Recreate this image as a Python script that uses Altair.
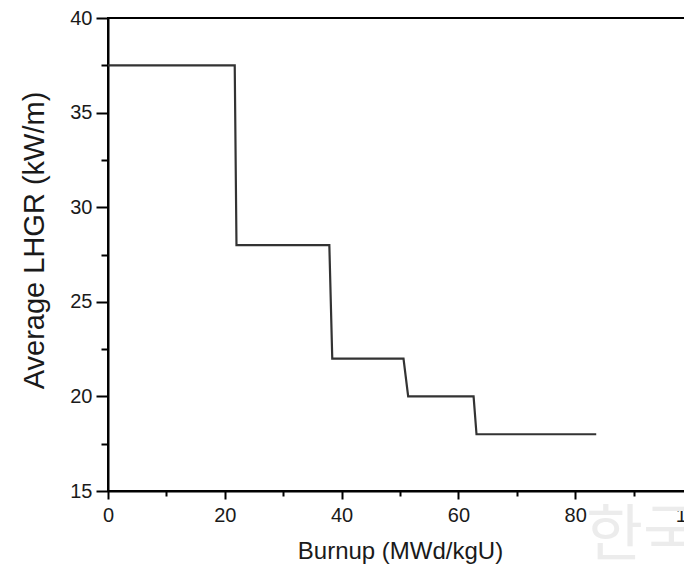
import altair as alt
import pandas as pd

# Step profile: burnup (MWd/kgU) vs average LHGR (kW/m)
burnup = [0, 21.7, 22.0, 37.9, 38.4, 50.6, 51.4, 62.6, 63.1, 83.6]
lhgr = [37.5, 37.5, 28.0, 28.0, 22.0, 22.0, 20.0, 20.0, 18.0, 18.0]

x_ticks = [0, 10, 20, 30, 40, 50, 60, 70, 80, 90, 100]
y_ticks = [15, 17.5, 20, 22.5, 25, 27.5, 30, 32.5, 35, 37.5, 40]

df = pd.DataFrame({"burnup": burnup, "lhgr": lhgr, "order": list(range(len(burnup)))})

FONT = "Liberation Sans"
TXT = "#1a1a1a"

x_axis = alt.Axis(
    title="Burnup (MWd/kgU)",
    values=x_ticks,
    labelExpr="datum.value % 20 === 0 ? datum.label : ''",
    tickSize={"condition": {"test": "datum.value % 20 === 0", "value": 8}, "value": 5},
    labelFlush=False,
    labelOverlap=False,
    grid=False,
    domainColor="black",
    domainWidth=2,
    tickColor="black",
    tickWidth=2,
    labelFont=FONT,
    labelFontSize=20,
    labelColor=TXT,
    labelPadding=6,
    titleFont=FONT,
    titleFontSize=24,
    titleFontWeight="normal",
    titleColor=TXT,
    titlePadding=14,
)

y_axis = alt.Axis(
    title="Average LHGR (kW/m)",
    values=y_ticks,
    labelExpr="datum.value % 5 === 0 ? datum.label : ''",
    tickSize={"condition": {"test": "datum.value % 5 === 0", "value": 12}, "value": 7},
    labelFlush=False,
    labelOverlap=False,
    grid=False,
    domainColor="black",
    domainWidth=2,
    tickColor="black",
    tickWidth=2,
    labelFont=FONT,
    labelFontSize=20,
    labelColor=TXT,
    labelPadding=4,
    titleFont=FONT,
    titleFontSize=29,
    titleFontWeight="normal",
    titleColor=TXT,
    titlePadding=20,
    titleY=222,
)

line = alt.Chart(df).mark_line(color="#333333", strokeWidth=2.2).encode(
    x=alt.X("burnup:Q", scale=alt.Scale(domain=[0, 100], nice=False, zero=False), axis=x_axis),
    y=alt.Y("lhgr:Q", scale=alt.Scale(domain=[15, 40], nice=False, zero=False), axis=y_axis),
    order="order:Q",
)

watermark = alt.Chart(pd.DataFrame({"t": ["한국"]})).mark_text(
    font="Noto Sans CJK KR",
    fontSize=62,
    color="#ececec",
    align="left",
    baseline="middle",
).encode(text="t:N", x=alt.value(478), y=alt.value(519))

chart = (
    alt.layer(watermark, line)
    .properties(
        width=584,
        height=473,
        autosize=alt.AutoSizeParams(type="none"),
        padding={"left": 100, "top": 10, "right": -8, "bottom": 76},
        background="white",
    )
    .configure_view(stroke="black", strokeWidth=2)
)

chart.save("out.html", embed_options={"renderer": "svg", "actions": False})
